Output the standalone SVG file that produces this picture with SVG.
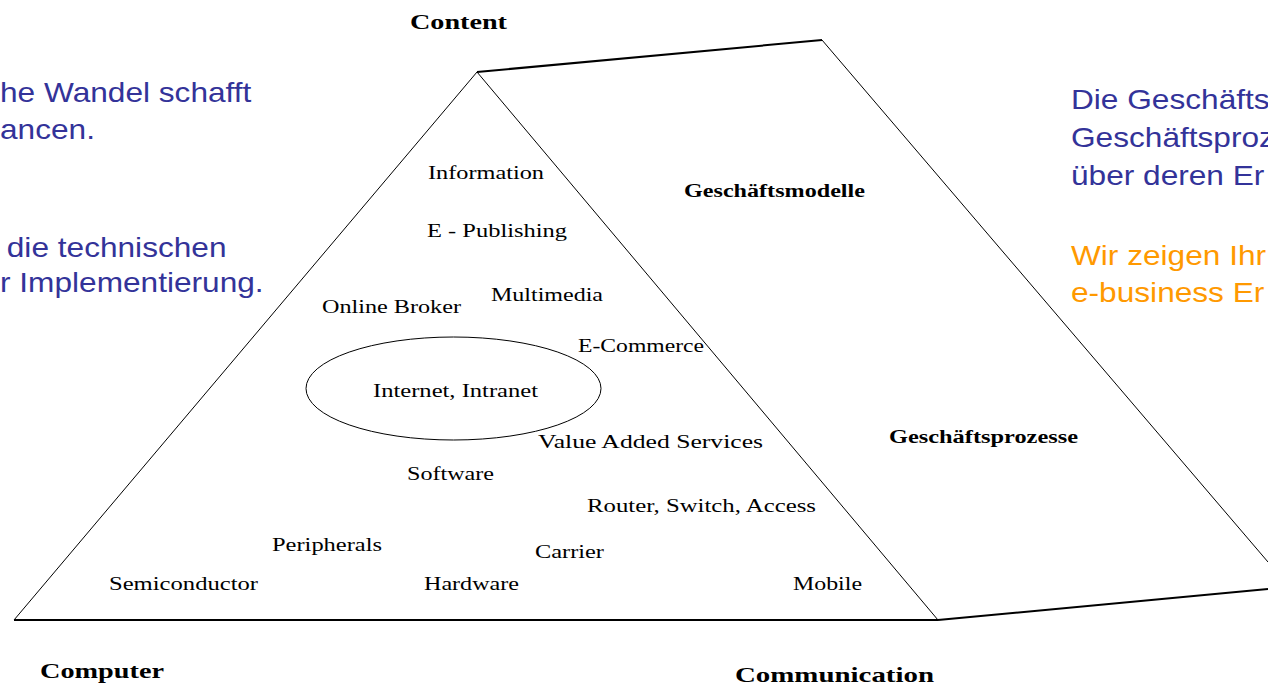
<svg xmlns="http://www.w3.org/2000/svg" width="1268" height="687" viewBox="0 0 1268 687">
  <style>
    .edge { fill: none; stroke: #000; stroke-width: 1; }
    .thick { fill: none; stroke: #000; stroke-width: 2; }
    .lbl { font-family: "Liberation Serif", "Times New Roman", serif; font-size: 19px; fill: #000; }
    .hdr { font-family: "Liberation Serif", "Times New Roman", serif; font-size: 22px; font-weight: bold; fill: #000; }
    .sub { font-family: "Liberation Serif", "Times New Roman", serif; font-size: 18px; font-weight: bold; fill: #000; }
    .blue { font-family: "Liberation Sans", Arial, sans-serif; font-size: 28px; fill: #333399; }
    .orange { font-family: "Liberation Sans", Arial, sans-serif; font-size: 28px; fill: #FF9900; }
  </style>
  <rect width="1268" height="687" fill="#fff"/>

  <g id="connectors">
    <line class="edge" x1="477" y1="72" x2="14" y2="620"/>
    <line class="edge" x1="477" y1="72" x2="938" y2="620"/>
    <line class="thick" x1="14" y1="620" x2="938" y2="620"/>
    <line class="thick" x1="477" y1="72" x2="822" y2="40"/>
    <line class="edge" x1="822" y1="40" x2="1268" y2="562"/>
    <line class="thick" x1="938" y1="620" x2="1268" y2="589"/>
  </g>

  <g id="ellipse-internet">
    <ellipse class="edge" cx="453.5" cy="388.5" rx="147.5" ry="51.5"/>
    <text class="lbl" x="373" y="397" textLength="165" lengthAdjust="spacingAndGlyphs">Internet, Intranet</text>
  </g>

  <g id="pyramid-labels">
    <text class="lbl" x="428" y="179" textLength="116" lengthAdjust="spacingAndGlyphs">Information</text>
    <text class="lbl" x="427" y="237" textLength="140" lengthAdjust="spacingAndGlyphs">E - Publishing</text>
    <text class="lbl" x="491" y="301" textLength="112" lengthAdjust="spacingAndGlyphs">Multimedia</text>
    <text class="lbl" x="322" y="313" textLength="139" lengthAdjust="spacingAndGlyphs">Online Broker</text>
    <text class="lbl" x="578" y="352" textLength="126" lengthAdjust="spacingAndGlyphs">E-Commerce</text>
    <text class="lbl" x="538" y="448" textLength="225" lengthAdjust="spacingAndGlyphs">Value Added Services</text>
    <text class="lbl" x="407" y="480" textLength="87" lengthAdjust="spacingAndGlyphs">Software</text>
    <text class="lbl" x="587" y="512" textLength="229" lengthAdjust="spacingAndGlyphs">Router, Switch, Access</text>
    <text class="lbl" x="272" y="551" textLength="110" lengthAdjust="spacingAndGlyphs">Peripherals</text>
    <text class="lbl" x="535" y="558" textLength="69" lengthAdjust="spacingAndGlyphs">Carrier</text>
    <text class="lbl" x="109" y="590" textLength="149" lengthAdjust="spacingAndGlyphs">Semiconductor</text>
    <text class="lbl" x="424" y="590" textLength="95" lengthAdjust="spacingAndGlyphs">Hardware</text>
    <text class="lbl" x="793" y="590" textLength="69" lengthAdjust="spacingAndGlyphs">Mobile</text>
  </g>

  <g id="corner-labels">
    <text class="hdr" x="410" y="29" textLength="97" lengthAdjust="spacingAndGlyphs">Content</text>
    <text class="hdr" x="40" y="678" textLength="124" lengthAdjust="spacingAndGlyphs">Computer</text>
    <text class="hdr" x="735" y="682" textLength="199" lengthAdjust="spacingAndGlyphs">Communication</text>
  </g>

  <g id="prism-labels">
    <text class="sub" x="684" y="197" textLength="181" lengthAdjust="spacingAndGlyphs">Geschäftsmodelle</text>
    <text class="sub" x="889" y="443" textLength="189" lengthAdjust="spacingAndGlyphs">Geschäftsprozesse</text>
  </g>

  <g id="text-left" transform="scale(1.13,1)">
    <text class="blue" x="0" y="102">he Wandel schafft</text>
    <text class="blue" x="0" y="139">ancen.</text>
    <text class="blue" x="6" y="257">die technischen</text>
    <text class="blue" x="0" y="292">r Implementierung.</text>
  </g>

  <g id="text-right" transform="translate(1071,0) scale(1.13,1)">
    <text class="blue" x="0" y="109">Die Geschäfts</text>
    <text class="blue" x="0" y="147">Geschäftsproz</text>
    <text class="blue" x="0" y="185">über deren Er</text>
    <text class="orange" x="0" y="265">Wir zeigen Ihr</text>
    <text class="orange" x="0" y="302">e-business Er</text>
  </g>
</svg>
